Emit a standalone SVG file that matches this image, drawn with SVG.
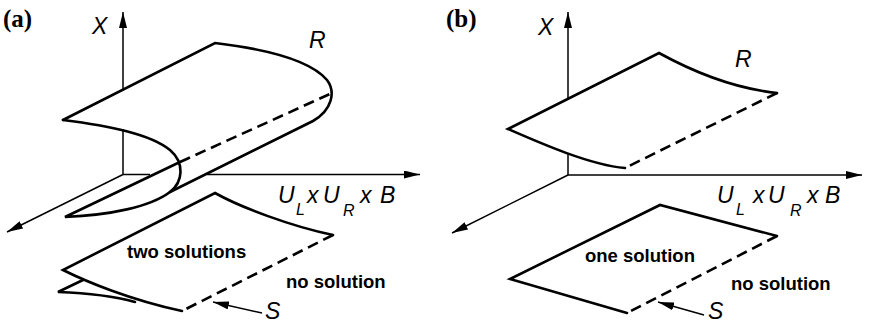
<svg xmlns="http://www.w3.org/2000/svg" width="869" height="323" viewBox="0 0 869 323">
<style>
.ax{stroke:#000;stroke-width:1.5;fill:none}
.sf{stroke:#000;stroke-width:2.6;fill:none;stroke-linejoin:miter;stroke-linecap:round}
.hd{stroke-dasharray:11 6;stroke-linecap:butt}
.pl{font-family:"Liberation Serif","Times New Roman",serif;font-weight:bold;font-size:25px}
.it{font-family:"Liberation Sans",Arial,sans-serif;font-style:italic;font-size:23px}
.sb{font-size:16px}
.bl{font-family:"Liberation Sans",Arial,sans-serif;font-weight:bold;font-size:18.5px}
</style>
<defs>
<marker id="ah" markerUnits="userSpaceOnUse" markerWidth="16" markerHeight="8" refX="16" refY="4" orient="auto"><path d="M0,0L16,4L0,8z" fill="#000"/></marker>
</defs>
<rect width="869" height="323" fill="#fff"/>

<g id="panel-a">
<text class="pl" x="3" y="27">(a)</text>
<g id="axes-a" class="ax">
<line x1="123" y1="89" x2="123" y2="12" marker-end="url(#ah)"/>
<line x1="123" y1="129" x2="123" y2="174.5"/>
<line x1="123" y1="174.5" x2="150" y2="174.5"/>
<line x1="207" y1="174.5" x2="420" y2="174.5" marker-end="url(#ah)"/>
<line x1="123" y1="174.5" x2="7" y2="232" marker-end="url(#ah)"/>
</g>
<g id="surface-R-a">
<path class="sf" d="M63,120 L215,43 C265,49 310,60 327,80 C336,92 332,110 313,121 L170,192"/>
<path class="sf" d="M63,120 C110,126 150,134 170,150 C185,163 183,182 170,192 C150,207 110,215 65,217 L180,162"/>
<path class="sf hd" d="M180,162 L332,93"/>
</g>
<g id="surface-S-a">
<path class="sf" d="M182,311 C130,300 85,281 63,270 L215,193 C240,207 290,226 333,235"/>
<path class="sf hd" d="M333,235 L182,311"/>
<path class="sf" d="M83,280 L58,292 C85,293 110,295 135,302"/>
</g>
<g id="labels-a">
<text class="it" x="92" y="34">X</text>
<text class="it" x="309" y="48">R</text>
<text class="it" y="203"><tspan x="278">U</tspan><tspan class="sb" x="296" y="215">L</tspan><tspan x="307" y="203">x</tspan><tspan x="323">U</tspan><tspan class="sb" x="343" y="216">R</tspan><tspan x="360" y="203">x</tspan><tspan x="380">B</tspan></text>
<text class="bl" x="127" y="258">two solutions</text>
<text class="bl" x="286" y="288">no solution</text>
<text class="it" x="265" y="319">S</text>
</g>
</g>

<g id="panel-b">
<text class="pl" x="446" y="27">(b)</text>
<g id="axes-b" class="ax">
<line x1="568" y1="99" x2="568" y2="12" marker-end="url(#ah)"/>
<line x1="568" y1="153" x2="568" y2="175"/>
<line x1="568" y1="175" x2="862" y2="175" marker-end="url(#ah)"/>
<line x1="568" y1="175" x2="452" y2="233" marker-end="url(#ah)"/>
</g>
<g id="surface-R-b">
<path class="sf" d="M625,168 C590,165 540,143 508,129 L659,53 C690,70 730,88 777,93"/>
<path class="sf hd" d="M777,93 L625,168"/>
</g>
<g id="surface-S-b">
<path class="sf" d="M627,313 L510,279 L660,205 L777,236"/>
<path class="sf hd" d="M777,236 L627,313"/>
</g>
<g id="labels-b">
<text class="it" x="538" y="35">X</text>
<text class="it" x="735" y="67">R</text>
<text class="it" y="203"><tspan x="717">U</tspan><tspan class="sb" x="736" y="215">L</tspan><tspan x="753" y="203">x</tspan><tspan x="768">U</tspan><tspan class="sb" x="790" y="216">R</tspan><tspan x="807" y="203">x</tspan><tspan x="825">B</tspan></text>
<text class="bl" x="585" y="262">one solution</text>
<text class="bl" x="731" y="290">no solution</text>
<text class="it" x="708" y="319">S</text>
</g>
</g>

<g id="connectors" class="ax">
<line x1="262" y1="313" x2="213" y2="302" marker-end="url(#ah)"/>
<line x1="704" y1="315" x2="658" y2="302" marker-end="url(#ah)"/>
</g>
</svg>
